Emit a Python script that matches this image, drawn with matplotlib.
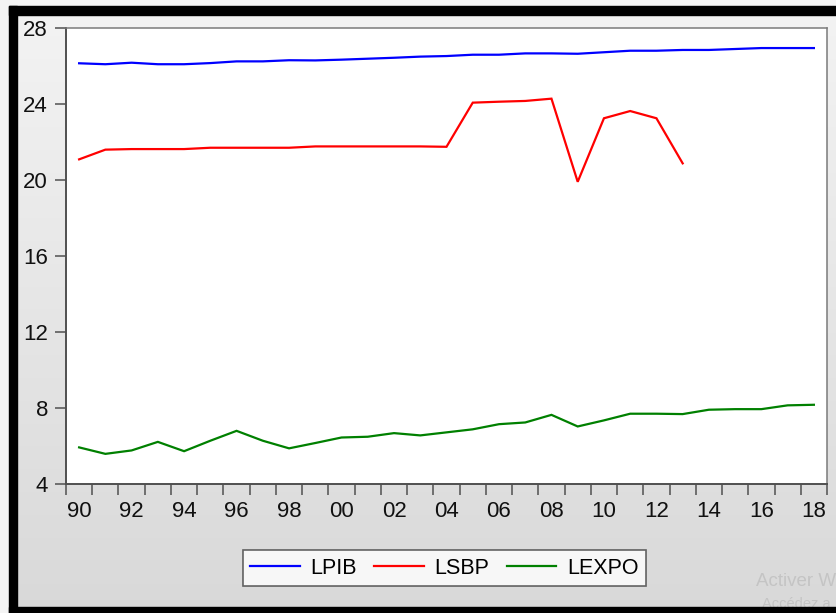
import numpy as np
import matplotlib
matplotlib.use("Agg")
import matplotlib.pyplot as plt
from matplotlib.patches import Rectangle
from matplotlib.ticker import FixedLocator, FixedFormatter, NullFormatter

plt.rcParams['font.family'] = ['Liberation Sans', 'DejaVu Sans']

# Annual series, 1990-2018 (LSBP stops in 2013)
years = list(range(1990, 2019))
lpib = [26.13, 26.08, 26.16, 26.08, 26.08, 26.14, 26.23, 26.23, 26.29, 26.28,
        26.32, 26.37, 26.42, 26.48, 26.51, 26.58, 26.58, 26.65, 26.65, 26.63,
        26.71, 26.79, 26.79, 26.83, 26.83, 26.88, 26.93, 26.93, 26.93]
lsbp = [21.08, 21.59, 21.62, 21.62, 21.62, 21.69, 21.69, 21.69, 21.69, 21.76,
        21.76, 21.76, 21.76, 21.76, 21.74, 24.06, 24.11, 24.15, 24.27, 19.90,
        23.24, 23.62, 23.24, 20.87] + [np.nan] * 5
lexpo = [5.94, 5.60, 5.78, 6.23, 5.74, 6.29, 6.81, 6.29, 5.89, 6.17,
         6.46, 6.50, 6.69, 6.57, 6.73, 6.89, 7.16, 7.25, 7.65, 7.04,
         7.36, 7.71, 7.71, 7.69, 7.92, 7.95, 7.95, 8.15, 8.18]
series_names = ['LPIB', 'LSBP', 'LEXPO']
series_colors = ['#0000ff', '#ff0000', '#008000']
label_years = years[::2]
year_labels = [f"{y % 100:02d}" for y in label_years]
y_ticks = [4, 8, 12, 16, 20, 24, 28]

W, H = 837, 613
fig = plt.figure(figsize=(W / 100, H / 100), dpi=100)

# Window background: soft vertical gradient with a dark frame
bg = fig.add_axes([0, 0, 1, 1], zorder=-5)
bg.set_xlim(0, W)
bg.set_ylim(H, 0)
bg.axis('off')
grad = np.linspace(0.955, 0.85, 256).reshape(-1, 1)
bg.imshow(np.dstack([grad, grad, grad]), extent=[0, W, H, 0], aspect='auto', zorder=0)
bg.add_patch(Rectangle((0, 0), W, 6, color='#f4f4f4', zorder=1))
bg.add_patch(Rectangle((0, 0), 9, H, color='#f4f4f4', zorder=1))
bg.text(756, 582, 'Activer W', fontsize=13.5, color='#c4c4c4',
        va='center', ha='left', zorder=2)
bg.text(762, 604, 'Accédez a', fontsize=10.5,
        color='#c4c4c4', va='center', ha='left', zorder=2)
bg.add_patch(Rectangle((9, 6), W - 9, 9, color='black', zorder=3))
bg.add_patch(Rectangle((9, 6), 8, H - 6, color='black', zorder=3))
bg.add_patch(Rectangle((9, 607), W - 9, 6, color='black', zorder=3))

# Plot area
left, right, top, bottom = 66, 827, 27.7, 484.3
ax = fig.add_axes([left / W, 1 - bottom / H, (right - left) / W, (bottom - top) / H])
ax.set_facecolor('white')

for vals, name, col in zip([lpib, lsbp, lexpo], series_names, series_colors):
    ax.plot(years, vals, color=col, lw=1.6, label=name, solid_joinstyle='miter')

ax.set_xlim(years[0] - 0.5, years[-1] + 0.5)
ax.set_ylim(y_ticks[0], y_ticks[-1])

# Ticks at year boundaries, labels centred on even years
ax.xaxis.set_major_locator(FixedLocator(np.arange(years[0] - 0.5, years[-1] + 1.0, 1.0)))
ax.xaxis.set_major_formatter(NullFormatter())
ax.xaxis.set_minor_locator(FixedLocator(label_years))
ax.xaxis.set_minor_formatter(FixedFormatter(year_labels))
ax.tick_params(axis='x', which='major', direction='out', length=8, width=1.1, color='#505050')
ax.tick_params(axis='x', which='minor', length=0, pad=12, labelsize=16, labelcolor='#111111')
ax.set_yticks(y_ticks)
ax.tick_params(axis='y', direction='out', length=8, width=1.1, color='#505050',
               pad=5, labelsize=16, labelcolor='#111111')

for side in ['left', 'bottom']:
    ax.spines[side].set_color('#505050')
    ax.spines[side].set_linewidth(1.4)
for side in ['top', 'right']:
    ax.spines[side].set_color('#7a7a7a')
    ax.spines[side].set_linewidth(1.1)

leg = ax.legend(loc='center', bbox_to_anchor=(444.5 / W, 1 - 568 / H),
                bbox_transform=fig.transFigure, ncol=3, fontsize=15.5,
                frameon=True, fancybox=False, shadow=False, handlelength=2.3,
                handletextpad=0.5, columnspacing=0.8, borderpad=0.35,
                borderaxespad=0)
leg.get_frame().set_edgecolor('#404040')
leg.get_frame().set_linewidth(1.2)
for line in leg.get_lines():
    line.set_linewidth(1.6)

fig.savefig('out.png', dpi=100)
